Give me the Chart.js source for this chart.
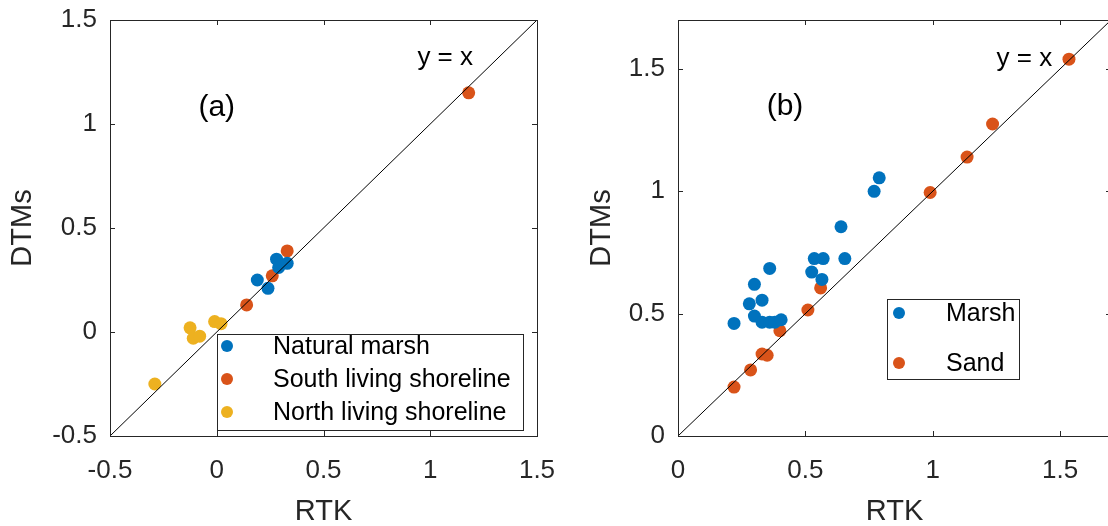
<!DOCTYPE html>
<html>
<head>
<meta charset="utf-8">
<script src="https://cdn.jsdelivr.net/npm/chart.js@4/dist/chart.umd.min.js"></script>
<style>
  html, body { margin:0; padding:0; width:1108px; height:526px; overflow:hidden; background:#fff; }
  canvas { position:absolute; top:0; }
  #ca { left:0; }
  #cb { left:570px; }
</style>
</head>
<body>
<canvas id="ca" width="570" height="526"></canvas>
<canvas id="cb" width="560" height="526"></canvas>
<script>
// ---------- DATA ----------
// Panel (a)
const natMarshRTK = [0.19, 0.24, 0.28, 0.29, 0.33];
const natMarshDTM = [0.25, 0.21, 0.35, 0.31, 0.33];
const southRTK   = [0.14, 0.26, 0.33, 1.18];
const southDTM   = [0.13, 0.27, 0.39, 1.15];
const northRTK   = [-0.29, -0.125, -0.11, -0.08, -0.01, 0.02];
const northDTM   = [-0.25, 0.02, -0.03, -0.02, 0.05, 0.04];
const refLineA   = [-0.5, 1.5];
const ticksA     = [-0.5, 0, 0.5, 1, 1.5];

// Panel (b)
const marshRTK = [0.22, 0.28, 0.30, 0.33, 0.30, 0.33, 0.36, 0.38, 0.405, 0.36, 0.535, 0.57, 0.655, 0.525, 0.565, 0.64, 0.77, 0.79];
const marshDTM = [0.46, 0.54, 0.62, 0.555, 0.49, 0.465, 0.465, 0.465, 0.475, 0.685, 0.725, 0.725, 0.725, 0.67, 0.64, 0.855, 1.0, 1.055];
const sandRTK  = [0.22, 0.285, 0.33, 0.35, 0.40, 0.51, 0.56, 0.99, 1.135, 1.235, 1.535];
const sandDTM  = [0.20, 0.27, 0.335, 0.33, 0.43, 0.515, 0.605, 0.995, 1.14, 1.275, 1.54];
const refLineB = [0, 1.7];
const ticksB   = [0, 0.5, 1, 1.5];

const BLUE = '#0072BD', ORANGE = '#D95319', YELLOW = '#EDB120';
const AXC = '#262626';
const FAM = '"Liberation Sans", Arial, Helvetica, sans-serif';

const pts = (xs, ys) => xs.map((x, i) => ({x: x, y: ys[i]}));

// ---------- plugin: MATLAB-like box, inward ticks, texts, legend ----------
const matlabPlugin = {
  id: 'matlab',
  afterDraw(chart, args, opts) {
    const ctx = chart.ctx, ca = chart.chartArea;
    const xs = chart.scales.x, ys = chart.scales.y;
    ctx.save();
    ctx.strokeStyle = AXC; ctx.lineWidth = 1;
    ctx.strokeRect(Math.round(ca.left) + 0.5, Math.round(ca.top) + 0.5,
                   Math.round(ca.right - ca.left), Math.round(ca.bottom - ca.top));
    const tl = 5;
    ctx.beginPath();
    xs.ticks.forEach(t => {
      const px = Math.round(xs.getPixelForValue(t.value)) + 0.5;
      ctx.moveTo(px, ca.bottom); ctx.lineTo(px, ca.bottom - tl);
      ctx.moveTo(px, ca.top); ctx.lineTo(px, ca.top + tl);
    });
    ys.ticks.forEach(t => {
      const py = Math.round(ys.getPixelForValue(t.value)) + 0.5;
      ctx.moveTo(ca.left, py); ctx.lineTo(ca.left + tl, py);
      ctx.moveTo(ca.right, py); ctx.lineTo(ca.right - tl, py);
    });
    ctx.stroke();

    // annotation texts (positioned in data coordinates)
    (opts.texts || []).forEach(tx => {
      ctx.fillStyle = '#000';
      ctx.font = tx.size + 'px ' + FAM;
      ctx.textAlign = 'center'; ctx.textBaseline = 'middle';
      ctx.fillText(tx.text, xs.getPixelForValue(tx.x), ys.getPixelForValue(tx.y));
    });

    // legend
    const lg = opts.legend;
    if (lg) {
      ctx.fillStyle = '#fff';
      ctx.fillRect(lg.x, lg.y, lg.w, lg.h);
      ctx.strokeStyle = AXC; ctx.lineWidth = 1;
      ctx.strokeRect(lg.x + 0.5, lg.y + 0.5, lg.w, lg.h);
      ctx.font = lg.size + 'px ' + FAM;
      ctx.textAlign = 'left'; ctx.textBaseline = 'middle';
      const items = chart.data.datasets.filter(d => d.label);
      items.forEach((d, i) => {
        const cy = lg.y + lg.rows[i];
        ctx.fillStyle = d.backgroundColor;
        ctx.beginPath(); ctx.arc(lg.x + lg.mx, cy, 6, 0, Math.PI * 2); ctx.fill();
        ctx.fillStyle = '#000';
        ctx.fillText(d.label, lg.x + lg.tx, cy + 1);
      });
    }
    ctx.restore();
  }
};

function scaleOpts(min, max, tickVals, fixedSize, horizontal, titleText, titlePad) {
  return {
    type: 'linear', min: min, max: max,
    afterBuildTicks: s => { s.ticks = tickVals.map(v => ({value: v})); },
    afterFit: s => {
      if (horizontal) { s.height = fixedSize; s.paddingLeft = 0; s.paddingRight = 0; }
      else { s.width = fixedSize; s.paddingTop = 0; s.paddingBottom = 0; }
    },
    grid: { display: false, drawTicks: false },
    border: { display: false },
    ticks: {
      color: AXC, padding: horizontal ? 19 : 13,
      font: { size: 26, family: FAM },
      callback: v => String(v)
    },
    title: {
      display: true, text: titleText, color: AXC,
      font: { size: 29, family: FAM, lineHeight: 1 },
      padding: titlePad
    }
  };
}

function ptDs(label, xs, ys, color) {
  return { type: 'scatter', label: label, data: pts(xs, ys), backgroundColor: color,
           borderWidth: 0, pointRadius: 6.5, pointHoverRadius: 6.5, order: 1 };
}
function lineDs(vals) {
  return { type: 'line', data: pts(vals, vals), borderColor: '#000', borderWidth: 1,
           pointRadius: 0, fill: false, order: 0 };
}

new Chart(document.getElementById('ca'), {
  type: 'scatter',
  data: {
    datasets: [
      ptDs('Natural marsh', natMarshRTK, natMarshDTM, BLUE),
      ptDs('South living shoreline', southRTK, southDTM, ORANGE),
      ptDs('North living shoreline', northRTK, northDTM, YELLOW),
      lineDs(refLineA)
    ]
  },
  options: {
    responsive: false, animation: false, devicePixelRatio: 1,
    layout: { padding: { left: 0, top: 20, right: 33, bottom: 0 } },
    scales: {
      x: scaleOpts(-0.5, 1.5, ticksA, 90, true, 'RTK', {top: 0, bottom: 0}),
      y: scaleOpts(-0.5, 1.5, ticksA, 110, false, 'DTMs', {top: 8, bottom: 0})
    },
    plugins: {
      legend: { display: false }, tooltip: { enabled: false },
      matlab: {
        texts: [ {text: '(a)', x: 0.0, y: 1.08, size: 30}, {text: 'y = x', x: 1.07, y: 1.32, size: 26} ],
        legend: { x: 217, y: 334, w: 306, h: 96, mx: 10, tx: 56, rows: [12, 45, 78], size: 25 }
      }
    }
  },
  plugins: [matlabPlugin]
});

new Chart(document.getElementById('cb'), {
  type: 'scatter',
  data: {
    datasets: [
      ptDs('Marsh', marshRTK, marshDTM, BLUE),
      ptDs('Sand', sandRTK, sandDTM, ORANGE),
      lineDs(refLineB)
    ]
  },
  options: {
    responsive: false, animation: false, devicePixelRatio: 1,
    layout: { padding: { left: 0, top: 20, right: 19, bottom: 0 } },
    scales: {
      x: scaleOpts(0, 1.7, ticksB, 90, true, 'RTK', {top: 0, bottom: 0}),
      y: scaleOpts(0, 1.7, ticksB, 108, false, 'DTMs', {top: 17, bottom: 0})
    },
    plugins: {
      legend: { display: false }, tooltip: { enabled: false },
      matlab: {
        texts: [ {text: '(b)', x: 0.42, y: 1.345, size: 30}, {text: 'y = x', x: 1.36, y: 1.54, size: 26} ],
        legend: { x: 317, y: 299, w: 132, h: 80, mx: 12, tx: 59, rows: [14, 64], size: 25 }
      }
    }
  },
  plugins: [matlabPlugin]
});
</script>
</body>
</html>
